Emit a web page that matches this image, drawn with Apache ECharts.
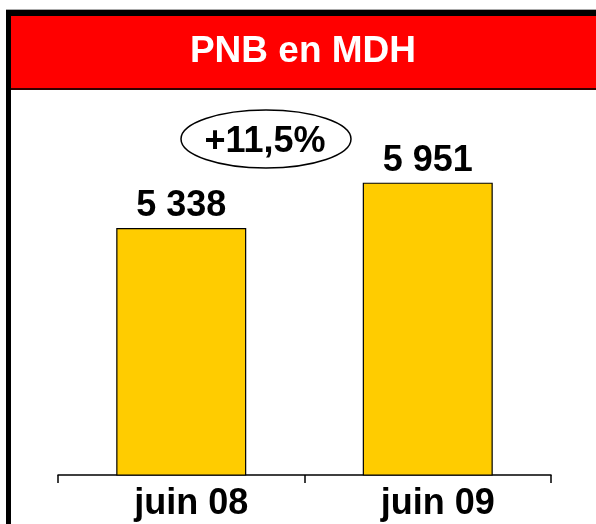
<!DOCTYPE html>
<html>
<head>
<meta charset="utf-8">
<script src="https://cdn.jsdelivr.net/npm/echarts@6/dist/echarts.min.js"></script>
<style>
  html, body { margin: 0; padding: 0; background: #fff; }
  #chart { width: 596px; height: 524px; }
</style>
</head>
<body>
<div id="chart"></div>
<script>
var categories = ['juin 08', 'juin 09'];
var values = [5338, 5951];
var growthText = '+11,5%';
var titleText = 'PNB en MDH';
var yMin = 2000;
var yMax = 7000;

var font = '"Liberation Sans", Arial, sans-serif';

function fmt(v) {
  return String(v).replace(/\B(?=(\d{3})+(?!\d))/g, ' ');
}

var chart = echarts.init(document.getElementById('chart'), null, { renderer: 'canvas' });
chart.setOption({
  animation: false,
  backgroundColor: '#fff',
  grid: { left: 58, right: 45, top: 105, bottom: 49 },
  xAxis: {
    type: 'category',
    data: categories,
    axisLine: { lineStyle: { color: '#000', width: 1.5 } },
    axisTick: { show: true, length: 8, lineStyle: { color: '#000', width: 1.5 } },
    axisLabel: {
      color: '#000', fontSize: 36, fontWeight: 'bold', fontFamily: font,
      margin: 11, padding: [0, 0, 0, 20]
    }
  },
  yAxis: {
    type: 'value',
    min: yMin,
    max: yMax,
    show: false,
    splitLine: { show: false }
  },
  series: [{
    type: 'bar',
    data: values,
    barWidth: 130,
    itemStyle: { color: '#FFCC00', borderColor: '#000', borderWidth: 1.2 },
    label: {
      show: true,
      position: 'top',
      distance: 4,
      color: '#000',
      fontSize: 36,
      fontWeight: 'bold',
      fontFamily: font,
      formatter: function(p) { return fmt(p.value); }
    }
  }],
  graphic: [
    // frame: top and left black borders
    { type: 'rect', shape: { x: 6, y: 9, width: 590, height: 1 }, style: { fill: '#aaa' }, silent: true },
    { type: 'rect', shape: { x: 6, y: 10, width: 590, height: 6 }, style: { fill: '#000' }, silent: true },
    { type: 'rect', shape: { x: 6, y: 10, width: 5, height: 514 }, style: { fill: '#000' }, silent: true },
    // red title band
    { type: 'rect', shape: { x: 11, y: 16, width: 585, height: 72 }, style: { fill: '#FF0000' }, silent: true },
    { type: 'rect', shape: { x: 11, y: 88, width: 585, height: 2 }, style: { fill: '#300' }, silent: true },
    {
      type: 'text', x: 303, y: 52, silent: true,
      style: {
        text: titleText, fill: '#fff', font: 'bold 37px ' + font,
        textAlign: 'center', textVerticalAlign: 'middle'
      }
    },
    // growth ellipse
    {
      type: 'ellipse', silent: true,
      shape: { cx: 266, cy: 139, rx: 85, ry: 29 },
      style: { fill: 'none', stroke: '#000', lineWidth: 1.5 }
    },
    {
      type: 'text', x: 265, y: 142, silent: true,
      style: {
        text: growthText, fill: '#000', font: 'bold 36px ' + font,
        textAlign: 'center', textVerticalAlign: 'middle'
      }
    }
  ]
});
</script>
</body>
</html>
